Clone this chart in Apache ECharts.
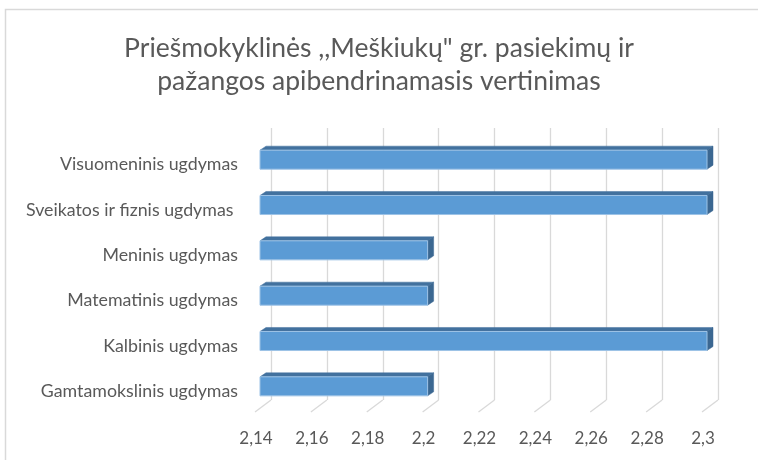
<!DOCTYPE html>
<html>
<head>
<meta charset="utf-8">
<script src="https://cdn.jsdelivr.net/npm/echarts@6/dist/echarts.min.js"></script>
<style>
html,body{margin:0;padding:0;background:#fff;}
#chart{width:758px;height:460px;}
</style>
</head>
<body>
<div id="chart"></div>
<script>
// Data (bottom-to-top order, as in the source sheet)
const categories = [
  'Gamtamokslinis ugdymas',
  'Kalbinis ugdymas',
  'Matematinis ugdymas',
  'Meninis ugdymas',
  'Sveikatos ir fiznis ugdymas ',
  'Visuomeninis ugdymas'
];
const values = [2.2, 2.3, 2.2, 2.2, 2.3, 2.3];
const tickValues = [2.14, 2.16, 2.18, 2.2, 2.22, 2.24, 2.26, 2.28, 2.3];
const titleLines = ['Priešmokyklinės ,,Meškiukų" gr. pasiekimų ir', 'pažangos apibendrinamasis vertinimas'];

const FONT = 'Lato';
const TEXT = '#595959';
const GRID = '#d9d9d9';
// 3D projection offsets (floor depth direction)
const DEPTH_X = -16, DEPTH_Y = 12;

const chart = echarts.init(document.getElementById('chart'), null, {renderer: 'canvas'});

function barRender(params, api) {
  const v = api.value(0);
  const c = api.value(1);
  const p0 = api.coord([2.14, c]);
  const p1 = api.coord([v, c]);
  const band = api.size([0, 1])[1];
  const h = band * 0.42;
  const fx = -11, fy = 9;      // bar front-face shift from back wall
  const dx = 6, dy = -4;       // bar depth
  const x0 = p0[0] + fx, x1 = p1[0] + fx;
  const yT = p0[1] + fy - h / 2, yB = p0[1] + fy + h / 2;
  return {
    type: 'group',
    children: [
      {type: 'polygon', shape: {points: [[x0, yT], [x1, yT], [x1 + dx, yT + dy], [x0 + dx, yT + dy]]},
        style: {fill: '#42719e', stroke: '#42719e', lineWidth: 0.5}},
      {type: 'polygon', shape: {points: [[x1, yT], [x1 + dx, yT + dy], [x1 + dx, yB + dy], [x1, yB]]},
        style: {fill: '#3b6791', stroke: '#3b6791', lineWidth: 0.5}},
      {type: 'rect', shape: {x: x0, y: yT, width: x1 - x0, height: yB - yT},
        style: {fill: '#5b9bd5', stroke: '#9dc3e6', lineWidth: 1}}
    ]
  };
}

function floorRender(params, api) {
  const v = api.value(0);
  const p = api.coord([v, 0]);
  const band = api.size([0, 1])[1];
  const y = p[1] + band / 2;
  return {
    type: 'line',
    shape: {x1: p[0], y1: y, x2: p[0] + DEPTH_X, y2: y + DEPTH_Y},
    style: {stroke: GRID, lineWidth: 1.3}
  };
}

chart.setOption({
  animation: false,
  backgroundColor: '#fff',
  title: {
    text: titleLines.join('\n'),
    left: 'center',
    top: 27,
    textStyle: {fontFamily: FONT, fontSize: 26.5, fontWeight: 'normal', color: TEXT, lineHeight: 33}
  },
  graphic: [{
    type: 'rect', shape: {x: 5.5, y: 9.5, width: 800, height: 500},
    style: {fill: 'none', stroke: GRID, lineWidth: 1.5}, silent: true, z: -10
  }],
  grid: {left: 271, right: 40, top: 128, bottom: 60, containLabel: false},
  xAxis: {
    type: 'value', min: 2.14, max: 2.3, interval: 0.02,
    axisLine: {show: false}, axisTick: {show: false},
    splitLine: {show: true, lineStyle: {color: GRID, width: 1.3}},
    axisLabel: {
      margin: 30, fontFamily: FONT, fontSize: 17, color: TEXT,
      padding: [0, 30, 0, 0],
      formatter: v => String(+v.toFixed(2)).replace('.', ',')
    }
  },
  yAxis: {
    type: 'category', data: categories,
    axisLine: {show: false}, axisTick: {show: false}, splitLine: {show: false},
    axisLabel: {margin: 33, fontFamily: FONT, fontSize: 17.8, color: TEXT,
      verticalAlign: 'top', lineHeight: 28}
  },
  series: [
    {
      type: 'custom', renderItem: floorRender, silent: true,
      data: tickValues.map(v => [v]), z: 1
    },
    {
      type: 'custom', renderItem: barRender,
      encode: {x: 0, y: 1},
      data: values.map((v, i) => [v, i]), z: 3
    }
  ]
});
</script>
</body>
</html>
